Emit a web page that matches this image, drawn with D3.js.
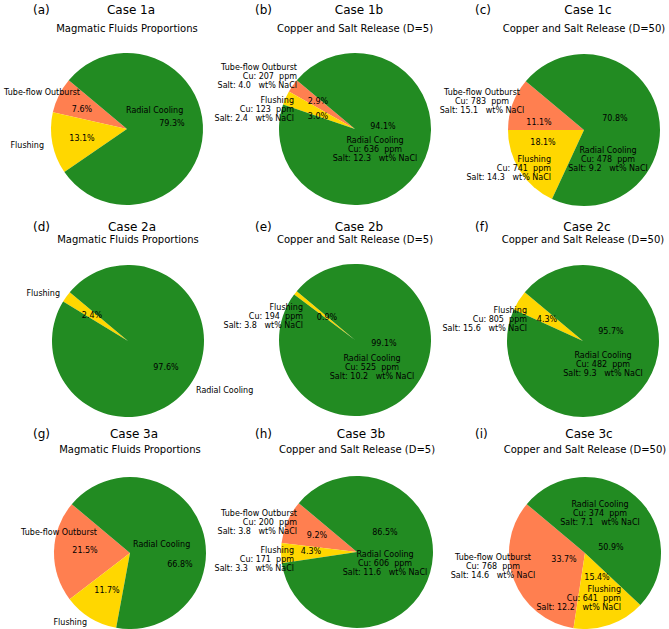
<!DOCTYPE html>
<html lang="en">
<head>
<meta charset="UTF-8">
<title>Pies</title>
<script src="https://cdn.jsdelivr.net/npm/d3@7"></script>
<style>
body{margin:0;background:#fff;}
text{font-family:"DejaVu Sans",sans-serif;fill:#000;white-space:pre;}
</style>
</head>
<body>
<script>
// data
var categories = ["Tube-flow Outburst", "Flushing", "Radial Cooling"];
var panelTags = ["(a)","(b)","(c)","(d)","(e)","(f)","(g)","(h)","(i)"];
var caseTitles = ["Case 1a","Case 1b","Case 1c","Case 2a","Case 2b","Case 2c","Case 3a","Case 3b","Case 3c"];
var subTitles = ["Magmatic Fluids Proportions","Copper and Salt Release (D=5)","Copper and Salt Release (D=50)",
                 "Magmatic Fluids Proportions","Copper and Salt Release (D=5)","Copper and Salt Release (D=50)",
                 "Magmatic Fluids Proportions","Copper and Salt Release (D=5)","Copper and Salt Release (D=50)"];
// percent share per panel: [tube-flow, flushing, radial]
var shares = [[7.6,13.1,79.3],[2.9,3.0,94.1],[11.1,18.1,70.8],
              [0,2.4,97.6],[0,0.9,99.1],[0,4.3,95.7],
              [21.5,11.7,66.8],[9.2,4.3,86.5],[33.7,15.4,50.9]];
// Cu (ppm) and salt (wt% NaCl) per panel, null = not shown
var cuPpm = [null,[207,123,636],[783,741,478],
             null,[null,194,525],[null,805,482],
             null,[200,171,606],[768,641,374]];
var saltWt = [null,[4.0,2.4,12.3],[15.1,14.3,9.2],
              null,[null,3.8,10.2],[null,15.6,9.3],
              null,[3.8,3.3,11.6],[14.6,12.2,7.1]];

// layout
var W = 669, H = 629, R = 76;
var colors = ["#FF7F50","#FFD700","#228B22"];
var centers = [[127,129],[355,129],[584,130],[128,341],[355,340],[583,341],[130,553],[357,552],[585,553]];
var tagX = [33,255,475];
var titleY = [14,231,438], subY = [32,243,453];
// label offsets from pie centre: [dx, dy, anchor]
var nameOff = [
  [[-47,-37,"end"],[-83,16,"end"],[-1,-19,"start"]],
  [[-58,-53,"end"],[-61,-20,"end"],[20,20,"middle"]],
  [[-102,-29,"middle"],[-33,38,"end"],[24,29,"middle"]],
  [null,[-68,-48,"end"],[68,49,"start"]],
  [null,[-52,-24,"end"],[17,27,"middle"]],
  [null,[-56,-22,"end"],[20,23,"middle"]],
  [[-33,-21,"end"],[-43,69,"end"],[3,-9,"start"]],
  [[-60,-30,"end"],[-63,7,"end"],[28,11,"middle"]],
  [[-92,13,"middle"],[36,45,"end"],[15,-40,"middle"]]
];
var pctOff = [
  [[-45,-20],[-45,9],[45,-6]],
  [[-37,-28],[-37,-13],[28,-3]],
  [[-45,-8],[-41,12],[31,-12]],
  [null,[-36,-26],[38,26]],
  [null,[-28,-23],[29,3]],
  [null,[-36,-22],[28,-10]],
  [[-45,-3],[-23,37],[50,11]],
  [[-40,-17],[-46,-1],[28,-20]],
  [[-21,6],[12,24],[26,-6]]
];
var lineH = 9;

var svg = d3.select("body").append("svg").attr("width",W).attr("height",H);

// matplotlib startangle=140, counterclockwise
var pie = d3.pie().sort(null).value(function(d){return d.v;})
  .startAngle((90-140)*Math.PI/180).endAngle((90-140-360)*Math.PI/180);
var arc = d3.arc().innerRadius(0).outerRadius(R);
var fmt = d3.format(".1f");

shares.forEach(function(vals,p){
  var col = p%3, row = Math.floor(p/3);
  var cx = centers[p][0], cy = centers[p][1];
  var items = categories.map(function(c,i){return {cat:c,i:i,v:vals[i]};});
  var g = svg.append("g").attr("transform","translate("+cx+","+cy+")");
  var arcs = pie(items);

  g.selectAll("path").data(arcs.filter(function(d){return d.data.v>0;})).enter().append("path")
    .attr("d",arc).attr("fill",function(d){return colors[d.data.i];});

  // percentages
  arcs.forEach(function(d){
    var o = pctOff[p][d.data.i];
    if(!o || d.data.v<=0) return;
    g.append("text").attr("x",o[0]).attr("y",o[1]).attr("dy","0.35em")
      .attr("text-anchor","middle").style("font-size","8px").text(fmt(d.data.v)+"%");
  });

  // names (with Cu / salt lines)
  arcs.forEach(function(d){
    var o = nameOff[p][d.data.i];
    if(!o || d.data.v<=0) return;
    var lines = [d.data.cat];
    if(cuPpm[p] && cuPpm[p][d.data.i]!=null){
      lines.push("Cu: "+cuPpm[p][d.data.i]+"  ppm");
      lines.push("Salt: "+fmt(saltWt[p][d.data.i])+"   wt% NaCl");
    }
    var t = g.append("text").attr("text-anchor",o[2]).style("font-size","8px");
    lines.forEach(function(s,k){
      t.append("tspan").attr("x",o[0]).attr("y",o[1]+(k-(lines.length-1)/2)*lineH)
        .attr("dy","0.35em").text(s);
    });
  });

  svg.append("text").attr("x",tagX[col]).attr("y",titleY[row])
    .style("font-size","12px").text(panelTags[p]);
  svg.append("text").attr("x",cx+4).attr("y",titleY[row]).attr("text-anchor","middle")
    .style("font-size","12px").text(caseTitles[p]);
  svg.append("text").attr("x",cx).attr("y",subY[row]).attr("text-anchor","middle")
    .style("font-size","10px").text(subTitles[p]);
});
</script>
</body>
</html>
